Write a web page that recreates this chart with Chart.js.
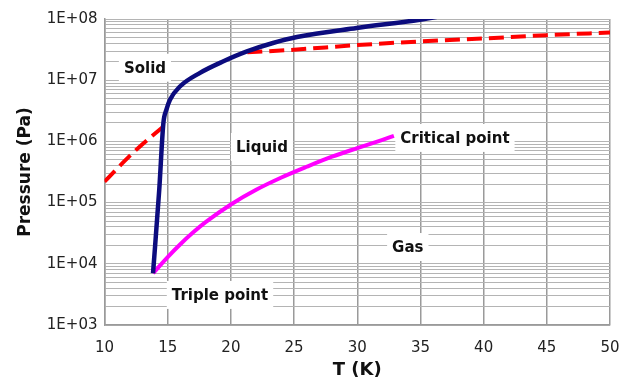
<!DOCTYPE html>
<html>
<head>
<meta charset="utf-8">
<script src="https://cdn.jsdelivr.net/npm/chart.js@4"></script>
<style>
  html, body { margin: 0; padding: 0; background: #fff; }
  #wrap { width: 623px; height: 383px; }
</style>
</head>
<body>
<div id="wrap"><canvas id="phaseChart"></canvas></div>
<script>
// melting curve (solid / liquid)
const meltT = [13.84, 14.33, 14.66, 14.9, 15.18, 15.97, 17.56, 19.37, 21.27, 23.33, 25.23, 29.95, 34.96, 37.0];
const meltP = [7.0e3, 1.6e5, 2.0e6, 3.3e6, 4.8e6, 7.9e6, 1.32e7, 2.02e7, 2.95e7, 4.05e7, 5.07e7, 7.13e7, 9.75e7, 1.15e8];

// vapour pressure curve (triple point -> critical point)
const vapT = [13.84, 15, 16, 17, 18, 20, 22, 24, 26, 28, 30, 32, 32.9];
const vapP = [7.0e3, 1.29e4, 2.09e4, 3.24e4, 4.79e4, 9.33e4, 1.62e5, 2.57e5, 3.85e5, 5.62e5, 7.76e5, 1.06e6, 1.23e6];

// red dashed, low temperature part
const lowT = [10, 11, 12, 13, 14, 15];
const lowP = [2.2e5, 3.6e5, 5.8e5, 9.0e5, 1.35e6, 2.0e6];

// red dashed, high temperature part
const highT = [21.3, 25, 30, 35, 40, 45, 50];
const highP = [2.85e7, 3.15e7, 3.75e7, 4.3e7, 4.8e7, 5.45e7, 6.0e7];

// axis ticks
const xTicks = [10, 15, 20, 25, 30, 35, 40, 45, 50];
const yDecades = [1e3, 1e4, 1e5, 1e6, 1e7, 1e8];

// region labels
const labelText = ["Solid", "Liquid", "Critical point", "Gas", "Triple point"];
const labelT = [13.2, 22.46, 37.73, 34.0, 19.14];
const labelP = [1.6e7, 8.1e5, 1.14e6, 1.88e4, 3.1e3];

const FONT = "'DejaVu Sans', sans-serif";

function toPoints(xs, ys) {
  return xs.map((x, i) => ({ x: x, y: ys[i] }));
}

function decadeLabel(v) {
  const e = Math.round(Math.log10(v));
  if (Math.abs(v - Math.pow(10, e)) > Math.pow(10, e) * 1e-6) return "";
  return "1E+" + String(e).padStart(2, "0");
}

// white boxes + bold text on the plot
const regionLabels = {
  id: "regionLabels",
  beforeDatasetsDraw(chart) {
    const ctx = chart.ctx;
    const xs = chart.scales.x;
    const ys = chart.scales.y;
    ctx.save();
    ctx.font = "bold 15px " + FONT;
    ctx.textAlign = "center";
    ctx.textBaseline = "middle";
    labelText.forEach((txt, i) => {
      const px = xs.getPixelForValue(labelT[i]);
      const py = ys.getPixelForValue(labelP[i]);
      const w = ctx.measureText(txt).width + 10;
      const h = 28;
      ctx.fillStyle = "#fff";
      ctx.fillRect(px - w / 2, py - h / 2, w, h);
      ctx.fillStyle = "#111";
      ctx.fillText(txt, px, py + 1);
    });
    ctx.restore();
  },
};

const lineBase = {
  pointRadius: 0,
  fill: false,
  cubicInterpolationMode: "monotone",
  borderCapStyle: "butt",
};

new Chart(document.getElementById("phaseChart"), {
  type: "line",
  data: {
    datasets: [
      Object.assign({}, lineBase, {
        label: "Melting",
        data: toPoints(meltT, meltP),
        borderColor: "#0c0c7e",
        borderWidth: 4.5,
      }),
      Object.assign({}, lineBase, {
        label: "Vapour",
        data: toPoints(vapT, vapP),
        borderColor: "#ff00ff",
        borderWidth: 4,
      }),
      Object.assign({}, lineBase, {
        label: "Low",
        data: toPoints(lowT, lowP),
        borderColor: "#ff0000",
        borderWidth: 4,
        borderDash: [15, 7],
      }),
      Object.assign({}, lineBase, {
        label: "High",
        data: toPoints(highT, highP),
        borderColor: "#ff0000",
        borderWidth: 4,
        borderDash: [15, 7],
      }),
    ],
  },
  options: {
    responsive: true,
    maintainAspectRatio: false,
    animation: false,
    layout: { padding: { left: 0, top: 19, right: 13, bottom: 0 } },
    plugins: {
      legend: { display: false },
      tooltip: { enabled: false },
    },
    scales: {
      x: {
        type: "linear",
        min: 10,
        max: 50,
        afterBuildTicks: (s) => {
          s.ticks = xTicks.map((v) => ({ value: v }));
        },
        afterFit: (s) => {
          s.height = 58;
          s.paddingRight = 0;
          s.paddingLeft = 0;
        },
        ticks: {
          autoSkip: false,
          padding: 14,
          color: "#222",
          font: { family: FONT, size: 15 },
        },
        grid: { color: "#9a9a9a", lineWidth: 1.5, drawTicks: false },
        border: { color: "#9a9a9a", width: 1.5 },
        title: {
          display: true,
          text: "T (K)",
          color: "#111",
          font: { family: FONT, size: 18, weight: "bold" },
          padding: { top: 0, bottom: 2 },
        },
      },
      y: {
        type: "logarithmic",
        min: 1e3,
        max: 1e8,
        afterBuildTicks: (s) => {
          const t = [];
          yDecades.forEach((d) => {
            for (let m = 1; m <= 9; m++) {
              if (d * m <= 1e8) t.push({ value: d * m });
            }
          });
          s.ticks = t;
        },
        afterFit: (s) => {
          s.width = 104.5;
        },
        ticks: {
          autoSkip: false,
          padding: 7,
          color: "#222",
          font: { family: FONT, size: 15 },
          callback: (v) => decadeLabel(v),
        },
        grid: { color: "#b4b4b4", lineWidth: 1, drawTicks: false },
        border: { color: "#9a9a9a", width: 1.5 },
        title: {
          display: true,
          text: "Pressure (Pa)",
          color: "#111",
          font: { family: FONT, size: 17, weight: "bold" },
          padding: { top: 15, bottom: 0 },
        },
      },
    },
  },
  plugins: [regionLabels],
});
</script>
</body>
</html>
